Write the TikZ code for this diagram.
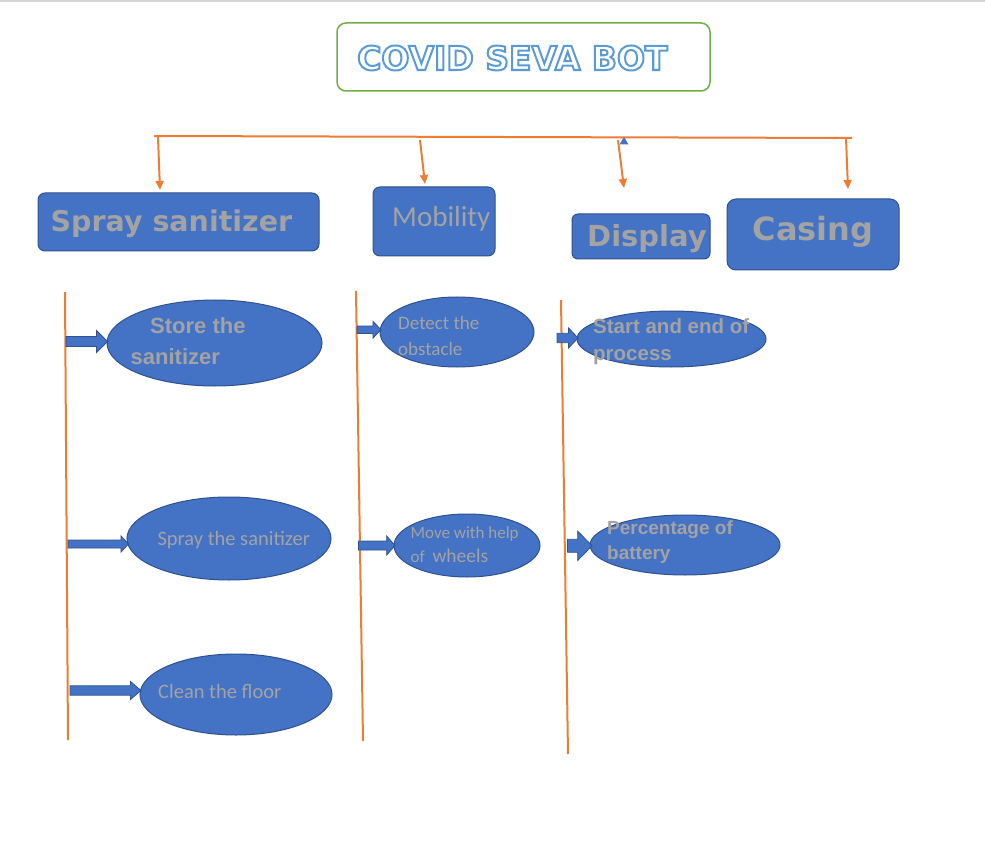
\documentclass[tikz,border=0pt]{standalone}
\usepackage{fontspec}
\setmainfont{Liberation Sans}
\newfontfamily\headfont{DejaVu Sans}
\newfontfamily\calfont{Carlito}
\usetikzlibrary{shapes.geometric,calc,arrows.meta}
\definecolor{boxblue}{HTML}{4472C4}
\definecolor{edgeblue}{HTML}{2F528F}
\definecolor{orng}{HTML}{ED7D31}
\definecolor{grn}{HTML}{70AD47}
\definecolor{ttlblue}{HTML}{5B9BD5}
\definecolor{txtgray}{HTML}{A3A3A3}
\definecolor{topgray}{HTML}{D6D6D6}
\newcommand\blockarr[7]{% name, x1, x2, y, shaft half, head half, head length
  \draw[barrow] (#2,#4-#5) -- (#3-#7,#4-#5) -- (#3-#7,#4-#6) -- (#3,#4)
     -- (#3-#7,#4+#6) -- (#3-#7,#4+#5) -- (#2,#4+#5) -- cycle;}
\newcommand\outlinetext[1]{\special{pdf:code 1 1 1 rg 2 Tr 2 w}#1\special{pdf:code 0 Tr}}
\begin{document}
\begin{tikzpicture}[x=1pt,y=-1pt,
  hbox/.style={draw=edgeblue, fill=boxblue, line width=1pt, rounded corners=7pt, inner sep=0pt},
  ell/.style={ellipse, draw=edgeblue, fill=boxblue, line width=1pt, inner sep=0pt},
  barrow/.style={draw=edgeblue, fill=boxblue, line width=0.8pt, line join=miter},
  oline/.style={draw=orng, line width=2pt},
  oarrow/.style={draw=orng, line width=2pt, -{Triangle[length=9pt,width=8pt]}},
  htext/.style={anchor=base west, inner sep=0pt, text=txtgray, font=\headfont\bfseries},
  btext/.style={anchor=base west, inner sep=0pt, text=txtgray, font=\bfseries},
  ctext/.style={anchor=base west, inner sep=0pt, text=txtgray},
]
\useasboundingbox (0,0) rectangle (985,850);
\fill[white] (0,0) rectangle (985,850);
\draw[topgray, line width=1.5pt] (0,1) -- (985,1);

% title
\node[draw=grn, line width=1.5pt, rounded corners=9pt, fill=white,
      minimum width=373pt, minimum height=68pt, inner sep=0pt] (title) at (523.5,57) {};
\node[anchor=base west, inner sep=0pt, text=ttlblue, font=\headfont\bfseries\fontsize{33}{36}\selectfont]
     (ttl) at (357,70) {\outlinetext{COVID SEVA BOT}};

% horizontal distribution line
\coordinate (hl) at (154,136);
\coordinate (hr) at (852,138);
\draw[oline] (hl) -- (hr);
\coordinate (s1) at (158,137); \coordinate (e1) at (160,190);
\coordinate (s2) at (420,140); \coordinate (e2) at (425,184);
\coordinate (s3) at (618,140); \coordinate (e3) at (624,188);
\coordinate (s4) at (846,138); \coordinate (e4) at (848,189);
\draw[oarrow] (s1) -- (e1);
\draw[oarrow] (s2) -- (e2);
\draw[oarrow] (s3) -- (e3);
\draw[oarrow] (s4) -- (e4);
\fill[boxblue] (619.5,144.5) -- (628.5,144.5) -- (624,137) -- cycle;

% heading boxes
\node[hbox, minimum width=281pt, minimum height=58pt] (spray) at (178.5,222) {};
\node[hbox, minimum width=122pt, minimum height=69pt] (mob) at (434,221.5) {};
\node[hbox, minimum width=138pt, minimum height=45pt, rounded corners=6pt] (disp) at (641,236.5) {};
\node[hbox, minimum width=172pt, minimum height=71pt, rounded corners=9pt] (cas) at (813,234.5) {};
\node[htext, font=\headfont\bfseries\fontsize{28.5}{30}\selectfont] (sprayt) at (50.5,232) {Spray sanitizer};
\node[ctext, font=\calfont\fontsize{29}{31}\selectfont] (mobt) at (392,227) {Mobility};
\node[htext, font=\headfont\bfseries\fontsize{29}{31}\selectfont] (dispt) at (587,247) {Display};
\node[htext, font=\headfont\bfseries\fontsize{32}{34}\selectfont] (cast) at (752.5,241) {Casing};

% vertical lines
\coordinate (v1a) at (65,292); \coordinate (v1b) at (68,740);
\coordinate (v2a) at (356,291); \coordinate (v2b) at (363,741);
\coordinate (v3a) at (561,300); \coordinate (v3b) at (568,754);
\draw[oline] (v1a) -- (v1b);
\draw[oline] (v2a) -- (v2b);
\draw[oline] (v3a) -- (v3b);

% ellipses
\node[ell, minimum width=215pt, minimum height=86pt] (e1s) at (214.5,343) {};
\node[ell, minimum width=204pt, minimum height=83pt] (e2s) at (229,538.5) {};
\node[ell, minimum width=192pt, minimum height=81pt] (e3s) at (236,694.5) {};
\node[ell, minimum width=154pt, minimum height=70pt] (m1s) at (457,332) {};
\node[ell, minimum width=146pt, minimum height=63pt] (m2s) at (467,545.5) {};
\node[ell, minimum width=189pt, minimum height=56pt] (r1s) at (671.5,339) {};
\node[ell, minimum width=190pt, minimum height=60pt] (r2s) at (685,545) {};

% block arrows
\blockarr{b1}{66}{107.5}{341.5}{5}{11}{11}
\blockarr{b2}{68}{128.5}{544}{4}{8}{7.5}
\blockarr{b3}{70}{141}{690.5}{4.7}{9}{10.5}
\blockarr{b4}{357}{381}{329.7}{3.7}{8.3}{8}
\blockarr{b5}{358.5}{395}{545.5}{4.5}{9.5}{8.3}
\blockarr{b6}{557}{578}{338}{4.7}{10}{9.4}
\blockarr{b7}{567.5}{592}{545.8}{6.5}{14.7}{14.3}

% ellipse texts
\node[btext, font=\bfseries\fontsize{22}{24}\selectfont] (t1a) at (150,333) {Store the};
\node[btext, font=\bfseries\fontsize{22}{24}\selectfont] (t1b) at (130.5,364) {sanitizer};
\node[ctext, font=\calfont\fontsize{20.5}{22}\selectfont] (t2) at (157.3,545) {Spray the sanitizer};
\node[ctext, font=\calfont\fontsize{20.5}{22}\selectfont] (t3) at (158,698.3) {Clean the floor};
\node[ctext, font=\calfont\fontsize{19}{21}\selectfont] (t4a) at (398,330) {Detect the};
\node[ctext, font=\calfont\fontsize{19}{21}\selectfont] (t4b) at (398,355.5) {obstacle};
\node[ctext, font=\calfont\fontsize{17}{19}\selectfont] (t5a) at (410.5,538.3) {Move with help};
\node[ctext, font=\calfont\fontsize{17}{19}\selectfont] (t5b) at (410.5,562.7) {of\ \ {\fontsize{19.5}{21}\selectfont wheels}};
\node[btext, font=\bfseries\fontsize{20.5}{22}\selectfont] (t6a) at (593,333.3) {Start and end of};
\node[btext, font=\bfseries\fontsize{20.5}{22}\selectfont] (t6b) at (593,360) {process};
\node[btext, font=\bfseries\fontsize{19}{21}\selectfont] (t7a) at (607,534.3) {Percentage of};
\node[btext, font=\bfseries\fontsize{19}{21}\selectfont] (t7b) at (607,559.5) {battery};
\end{tikzpicture}
\end{document}
